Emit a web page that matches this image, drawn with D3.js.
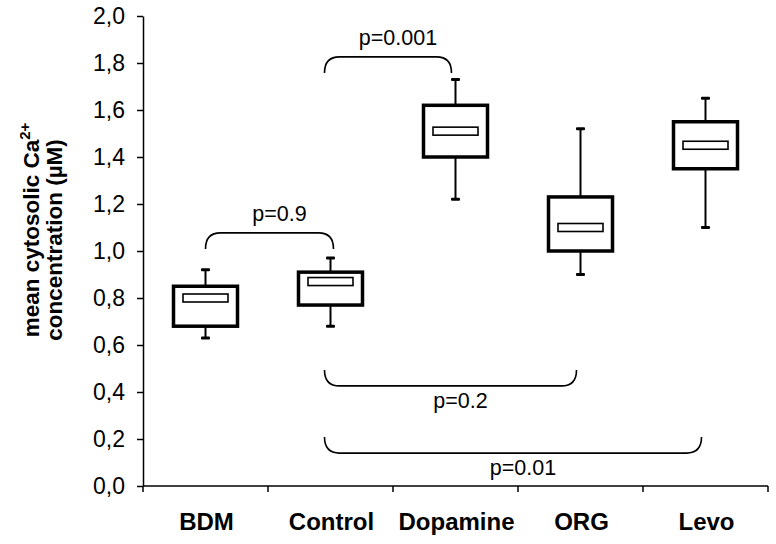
<!DOCTYPE html>
<html>
<head>
<meta charset="utf-8">
<script src="https://cdn.jsdelivr.net/npm/d3@7"></script>
<style>
  body { margin: 0; background: #fff; }
  svg { display: block; }
  text { font-family: "Liberation Sans", Arial, sans-serif; fill: #000; }
</style>
</head>
<body>
<svg id="chart" width="776" height="544"></svg>
<script>
// ---- data ----
const categories = ["BDM", "Control", "Dopamine", "ORG", "Levo"];
const whiskerLow  = [0.63, 0.68, 1.22, 0.90, 1.10];
const q1          = [0.68, 0.77, 1.40, 1.00, 1.35];
const medians     = [0.80, 0.87, 1.51, 1.10, 1.45];
const q3          = [0.85, 0.91, 1.62, 1.23, 1.55];
const whiskerHigh = [0.92, 0.97, 1.73, 1.52, 1.65];
const yTicks = [0, 0.2, 0.4, 0.6, 0.8, 1.0, 1.2, 1.4, 1.6, 1.8, 2.0];
const bracketFrom  = ["BDM", "Control", "Control", "Control"];
const bracketTo    = ["Control", "Dopamine", "ORG", "Levo"];
const bracketLevel = [1.077, 1.826, 0.426, 0.140];
const bracketSide  = ["above", "above", "below", "below"];
const bracketLabel = ["p=0.9", "p=0.001", "p=0.2", "p=0.01"];

// ---- layout ----
const svg = d3.select("#chart");
const x = d3.scaleBand().domain(categories).range([143, 768]).padding(0);
const y = d3.scaleLinear().domain([0, 2]).range([486, 16]);
const fmt = d => d.toFixed(1).replace(".", ",");

// y axis
const yAxis = svg.append("g").attr("transform", "translate(143,0)")
  .call(d3.axisLeft(y).tickValues(yTicks).tickFormat(fmt).tickSize(6).tickPadding(12).tickSizeOuter(0));
yAxis.select(".domain").attr("stroke", "#000").attr("stroke-width", 1.5);
yAxis.selectAll(".tick line").attr("stroke", "#000").attr("stroke-width", 1.5);
yAxis.selectAll(".tick text").attr("font-size", 23).attr("font-family", "Liberation Sans, Arial, sans-serif");

// x axis (ticks at band edges)
const xAxisG = svg.append("g").attr("transform", "translate(0,486)");
xAxisG.append("line").attr("x1", 143).attr("x2", 768).attr("stroke", "#000").attr("stroke-width", 1.5);
const edges = categories.map(c => x(c)).concat([x.range()[1]]);
xAxisG.selectAll("line.tk").data(edges).enter().append("line")
  .attr("class", "tk").attr("x1", d => d).attr("x2", d => d).attr("y1", 0).attr("y2", 6)
  .attr("stroke", "#000").attr("stroke-width", 1.5);
xAxisG.selectAll("text.cat").data(categories).enter().append("text")
  .attr("class", "cat")
  .attr("x", d => x(d) + x.bandwidth() / 2 + 1)
  .attr("y", 44)
  .attr("text-anchor", "middle")
  .attr("font-size", 24).attr("font-weight", "bold")
  .text(d => d);

// y title
const title = svg.append("g");
const t1 = title.append("text")
  .attr("transform", "translate(39,230) rotate(-90)")
  .attr("text-anchor", "middle").attr("font-size", 22.5).attr("font-weight", "bold");
t1.append("tspan").text("mean cytosolic Ca");
t1.append("tspan").attr("font-size", 15).attr("dy", -9).text("2+");
title.append("text")
  .attr("transform", "translate(62,240) rotate(-90)")
  .attr("text-anchor", "middle").attr("font-size", 22.5).attr("font-weight", "bold")
  .text("concentration (µM)");

// boxes
const boxW = 64, medW = 45, medH = 8, capW = 9;
const rows = categories.map((c, i) => ({
  c, lo: whiskerLow[i], q1: q1[i], med: medians[i], q3: q3[i], hi: whiskerHigh[i]
}));
const g = svg.append("g");
rows.forEach(r => {
  const cx = x(r.c) + x.bandwidth() / 2;
  // whiskers
  g.append("line").attr("x1", cx).attr("x2", cx).attr("y1", y(r.hi)).attr("y2", y(r.q3))
    .attr("stroke", "#000").attr("stroke-width", 2);
  g.append("line").attr("x1", cx).attr("x2", cx).attr("y1", y(r.q1)).attr("y2", y(r.lo))
    .attr("stroke", "#000").attr("stroke-width", 2);
  // caps
  [r.hi, r.lo].forEach(v => {
    g.append("rect").attr("x", cx - capW / 2).attr("y", y(v) - 1.5)
      .attr("width", capW).attr("height", 3).attr("rx", 1).attr("fill", "#000");
  });
  // box
  g.append("rect").attr("x", cx - boxW / 2).attr("y", y(r.q3))
    .attr("width", boxW).attr("height", y(r.q1) - y(r.q3))
    .attr("fill", "#fff").attr("stroke", "#000").attr("stroke-width", 3.5);
  // median bar
  g.append("rect").attr("x", cx - medW / 2).attr("y", y(r.med) - medH / 2)
    .attr("width", medW).attr("height", medH)
    .attr("fill", "#fff").attr("stroke", "#000").attr("stroke-width", 1.6);
});

// brackets
const bg = svg.append("g");
const rad = 15, depth = 16;
bracketLabel.forEach((lab, i) => {
  const xa = x(bracketFrom[i]) + x.bandwidth() / 2 - (bracketFrom[i] === "Control" ? 6 : 0);
  const xb = x(bracketTo[i]) + x.bandwidth() / 2 + (bracketTo[i] === "Control" ? 3 : -4);
  const yl = y(bracketLevel[i]);
  const s = bracketSide[i] === "above" ? 1 : -1; // ends go down for "above"
  const ye = yl + s * depth;
  const path = `M${xa},${ye} Q${xa},${yl} ${xa + rad},${yl} L${xb - rad},${yl} Q${xb},${yl} ${xb},${ye}`;
  bg.append("path").attr("d", path).attr("fill", "none").attr("stroke", "#000").attr("stroke-width", 1.6);
  bg.append("text")
    .attr("x", (xa + xb) / 2 + 10)
    .attr("y", s === 1 ? yl - 12 : yl + 22)
    .attr("text-anchor", "middle").attr("font-size", 21.5)
    .text(lab);
});
</script>
</body>
</html>
